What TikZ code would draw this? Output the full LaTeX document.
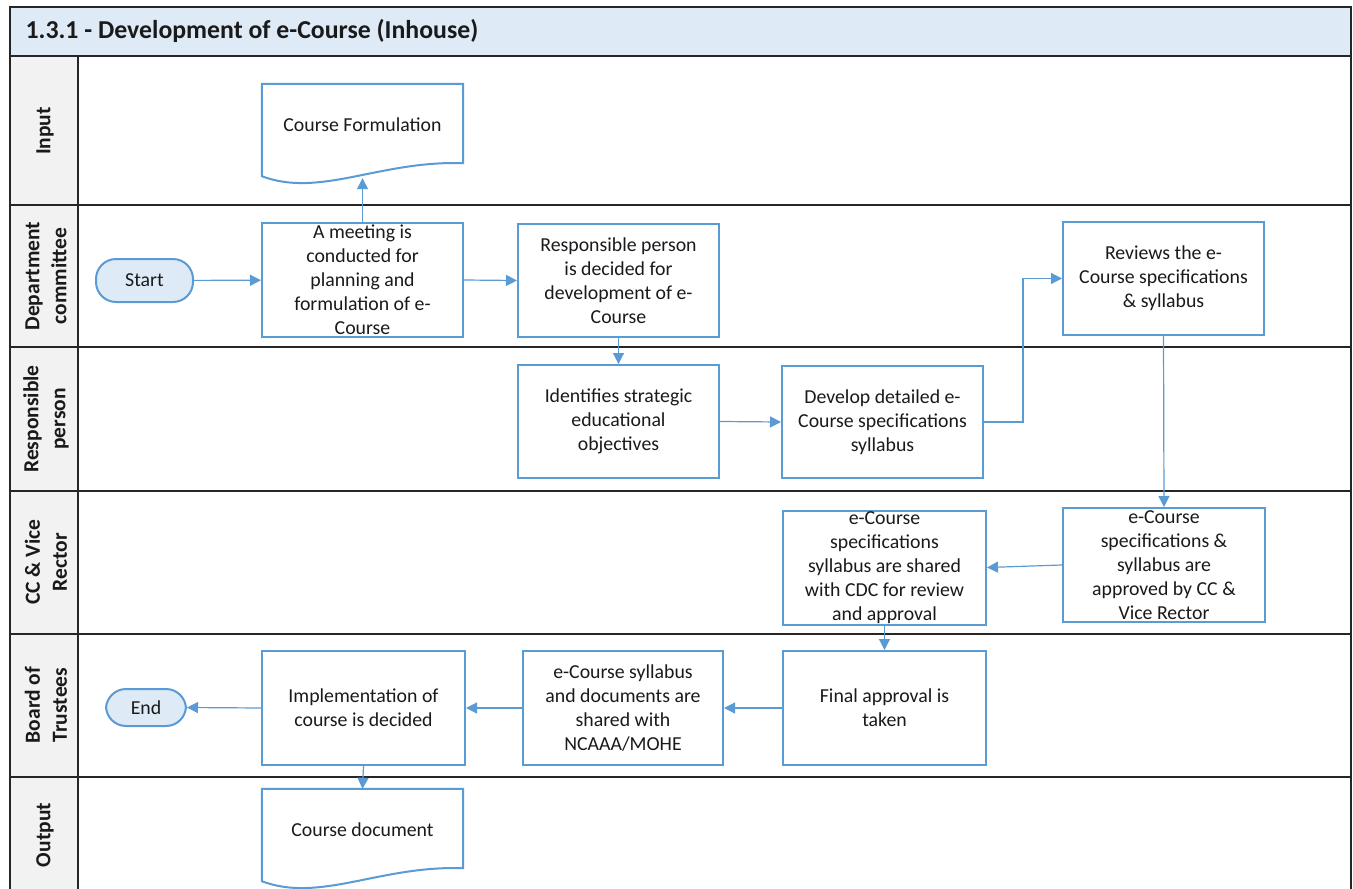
\documentclass[tikz,border=0pt]{standalone}
\usepackage{fontspec}
\setmainfont{Carlito}
\usetikzlibrary{arrows.meta,calc}
\definecolor{flowblue}{HTML}{5B9BD5}
\definecolor{termfill}{HTML}{DEEBF7}
\definecolor{titlefill}{HTML}{DEEBF7}
\definecolor{lanefill}{HTML}{F2F2F2}
\definecolor{inktext}{HTML}{1A1A1A}

\tikzset{
  frameline/.style={draw=black!85, line width=2pt},
  procbox/.style={draw=flowblue, line width=2pt, fill=white, align=center,
    minimum width=201pt, minimum height=114pt, inner sep=0pt,
    text=inktext, font=\fontsize{19.8}{24}\selectfont},
  docbox/.style={align=center, minimum width=201pt, minimum height=82pt,
    inner sep=0pt, text=inktext, font=\fontsize{19.8}{24}\selectfont},
  docline/.style={draw=flowblue, line width=2pt, fill=white},
  termbox/.style={draw=flowblue, line width=2pt, fill=termfill,
    rounded corners=20pt, inner sep=0pt, text=inktext,
    font=\fontsize{19.8}{24}\selectfont},
  lanelabel/.style={rotate=90, align=center, text=inktext,
    font=\bfseries\fontsize{21.5}{27}\selectfont},
  flow/.style={draw=flowblue, line width=1.2pt,
    -{Triangle[length=11pt,width=11pt]}},
}

% document symbol: box with a wavy lower edge, drawn around a text node
\newcommand{\docoutline}[1]{%
  \draw[docline] (#1.north west) -- (#1.north east)
    -- ($(#1.south east)+(0,-3)$)
    .. controls ($(#1.south east)+(-83,-6)$) and ($(#1.south west)+(58,32)$) ..
    ($(#1.south west)+(0,10)$) -- cycle;}

\begin{document}
\begin{tikzpicture}[x=1pt,y=-1pt]
  \clip (0,0) rectangle (1353,889);
  \fill[white] (0,0) rectangle (1353,889);

  % title band and lane header column
  \fill[titlefill] (10,7) rectangle (1351,56);
  \fill[lanefill] (10,56) rectangle (78,900);

  % lane grid
  \draw[frameline] (10,900) -- (10,7) -- (1351,7) -- (1351,900);
  \foreach \yy in {56,205,347,491,634,777}
    \draw[frameline] (10,\yy) -- (1351,\yy);
  \draw[frameline] (78,56) -- (78,900);

  % title
  \node[anchor=west, text=inktext, font=\bfseries\fontsize{25.8}{30}\selectfont]
    (title) at (22,31) {1.3.1 - Development of e-Course (Inhouse)};

  % lane names
  \node[lanelabel] (lnin)  at (45,131) {Input};
  \node[lanelabel] (lndep) at (46,276) {Department\\committee};
  \node[lanelabel] (lnrsp) at (46,419) {Responsible\\person};
  \node[lanelabel] (lncc)  at (46,562) {CC \& Vice\\Rector};
  \node[lanelabel] (lnbot) at (46,705) {Board of\\Trustees};
  \node[lanelabel] (lnout) at (45,835) {Output};

  % documents
  \node[docbox] (cf) at (362.5,125) {};
  \docoutline{cf}
  \node[docbox] (cfx) at (362.5,125) {Course Formulation};
  \node[docbox] (cd) at (362.5,830) {};
  \docoutline{cd}
  \node[docbox] (cdx) at (362.5,830) {Course document};

  % terminals
  \node[termbox, minimum width=97pt, minimum height=43pt] (start) at (144.5,280.5) {Start};
  \node[termbox, minimum width=80pt, minimum height=37pt] (end) at (146,707.5) {End};

  % process steps
  \node[procbox] (meet) at (362.5,280)
    {A meeting is\\conducted for\\planning and\\formulation of e-\\Course};
  \node[procbox, minimum height=113pt] (resp) at (618.5,280.5)
    {Responsible person\\is decided for\\development of e-\\Course};
  \node[procbox, minimum height=113pt] (rev) at (1163.5,278.5)
    {Reviews the e-\\Course specifications\\\& syllabus};
  \node[procbox, minimum height=113pt] (ident) at (618.5,421.5)
    {Identifies strategic\\educational\\objectives};
  \node[procbox, minimum height=112pt] (dev) at (882.5,422)
    {Develop detailed e-\\Course specifications\\syllabus};
  \node[procbox, minimum width=202pt] (appr) at (1164,565)
    {e-Course\\specifications \&\\syllabus are\\approved by CC \&\\Vice Rector};
  \node[procbox, minimum width=203pt] (cdc) at (884.5,567.5)
    {e-Course\\specifications\\syllabus are shared\\with CDC for review\\and approval};
  \node[procbox, minimum width=203pt] (final) at (884.5,708)
    {Final approval is\\taken};
  \node[procbox, minimum width=200pt] (ncaaa) at (623,708)
    {e-Course syllabus\\and documents are\\shared with\\NCAAA/MOHE};
  \node[procbox, minimum width=203pt] (impl) at (363.5,708)
    {Implementation of\\course is decided};

  % connectors
  \draw[flow] (start) -- (meet);
  \draw[flow] (meet.north) -- ($(cf.south)+(0,12)$);
  \draw[flow] (meet.east) -- (resp.west);
  \draw[flow] (resp.south) -- (ident.north);
  \draw[flow] (ident.east) -- (dev.west);
  \draw[flow] (dev.east) -- ++(39,0) |- (rev.west);
  \draw[flow] (rev.south) -- (appr.north);
  \draw[flow] (appr.west) -- (cdc.east);
  \draw[flow] (cdc.south) -- (final.north);
  \draw[flow] (final.west) -- (ncaaa.east);
  \draw[flow] (ncaaa.west) -- (impl.east);
  \draw[flow] (impl.west) -- (end.east);
  \draw[flow] (impl.south) -- (cd.north);
\end{tikzpicture}
\end{document}
